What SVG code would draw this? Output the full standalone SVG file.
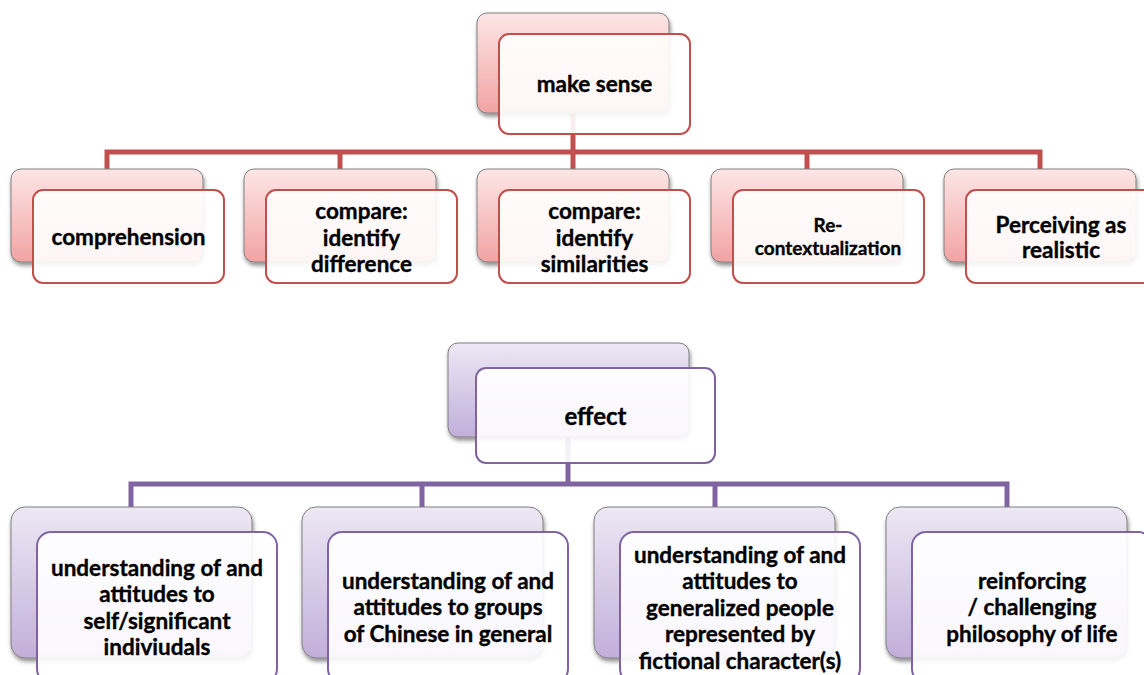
<svg xmlns="http://www.w3.org/2000/svg" width="1144" height="675" viewBox="0 0 1144 675">
<defs>
<linearGradient id="gR" x1="0" y1="0" x2="0" y2="1"><stop offset="0" stop-color="#FDE6E6"/><stop offset="1" stop-color="#F2A3A3"/></linearGradient>
<linearGradient id="gP" x1="0" y1="0" x2="0" y2="1"><stop offset="0" stop-color="#EDE8F4"/><stop offset="1" stop-color="#C2AFDA"/></linearGradient>
<filter id="sh" x="-10%" y="-10%" width="125%" height="130%"><feDropShadow dx="1" dy="3" stdDeviation="2" flood-color="#000" flood-opacity="0.45"/></filter>
</defs>
<style>
.br{fill:url(#gR);stroke:#808080;stroke-width:1;filter:url(#sh)}
.bp{fill:url(#gP);stroke:#808080;stroke-width:1;filter:url(#sh)}
.fr{fill:#fff;fill-opacity:0.9;stroke:#C0504D;stroke-width:2}
.fp{fill:#fff;fill-opacity:0.9;stroke:#8064A2;stroke-width:2}
.cr{fill:none;stroke:#C0504D;stroke-width:5}
.cp{fill:none;stroke:#8064A2;stroke-width:5}
text{font-family:Lato,"Liberation Sans",sans-serif;font-weight:bold;font-size:22.5px;fill:#000;stroke:#000;stroke-width:0.35;text-anchor:middle;dominant-baseline:central}
.sm{font-size:19px}
.lg{font-size:24px}
</style>
<rect width="1144" height="675" fill="#fff"/>
<g id="connectors">
<path class="cr" d="M573,113V152M107,169V152H1040V169M340,152V169M573,152V169M807,152V169"/>
<path class="cp" d="M568,437V484M131,507V484H1007V507M422,484V507M715,484V507"/>
</g>
<g id="make-sense">
<rect class="br" x="477" y="13" width="192" height="100" rx="10"/>
<rect class="fr" x="499" y="34" width="191" height="100" rx="10"/>
<text x="594.5" y="83">make sense</text>
</g>
<g id="comprehension">
<rect class="br" x="11" y="169" width="192" height="93" rx="10"/>
<rect class="fr" x="33" y="190" width="191" height="93" rx="10"/>
<text x="128.5" y="236">comprehension</text>
</g>
<g id="compare-difference">
<rect class="br" x="244" y="169" width="192" height="93" rx="10"/>
<rect class="fr" x="266" y="190" width="191" height="93" rx="10"/>
<text x="361.5" y="210">compare:</text>
<text x="361.5" y="237">identify</text>
<text x="361.5" y="263">difference</text>
</g>
<g id="compare-similarities">
<rect class="br" x="477" y="169" width="192" height="93" rx="10"/>
<rect class="fr" x="499" y="190" width="191" height="93" rx="10"/>
<text x="594.5" y="210">compare:</text>
<text x="594.5" y="237">identify</text>
<text x="594.5" y="263">similarities</text>
</g>
<g id="recontextualization">
<rect class="br" x="711" y="169" width="192" height="93" rx="10"/>
<rect class="fr" x="733" y="190" width="191" height="93" rx="10"/>
<text class="sm" x="828" y="224">Re-</text>
<text class="sm" x="828" y="247">contextualization</text>
</g>
<g id="perceiving">
<rect class="br" x="944" y="169" width="192" height="93" rx="10"/>
<rect class="fr" x="966" y="190" width="191" height="93" rx="10"/>
<text x="1061" y="224">Perceiving as</text>
<text x="1061" y="249">realistic</text>
</g>
<g id="effect">
<rect class="bp" x="448" y="343" width="241" height="94" rx="10"/>
<rect class="fp" x="476" y="368" width="239" height="95" rx="10"/>
<text class="lg" x="595.5" y="415">effect</text>
</g>
<g id="self">
<rect class="bp" x="11" y="507" width="241" height="151" rx="14"/>
<rect class="fp" x="37" y="532" width="240" height="151" rx="14"/>
<text x="157" y="567">understanding of and</text>
<text x="157" y="593">attitudes to</text>
<text x="157" y="620">self/significant</text>
<text x="157" y="646">indiviudals</text>
</g>
<g id="groups">
<rect class="bp" x="302" y="507" width="241" height="151" rx="14"/>
<rect class="fp" x="328" y="532" width="240" height="151" rx="14"/>
<text x="448" y="580">understanding of and</text>
<text x="448" y="606">attitudes to groups</text>
<text x="448" y="633">of Chinese in general</text>
</g>
<g id="generalized">
<rect class="bp" x="594" y="507" width="241" height="151" rx="14"/>
<rect class="fp" x="620" y="532" width="240" height="151" rx="14"/>
<text x="740" y="554">understanding of and</text>
<text x="740" y="580">attitudes to</text>
<text x="740" y="607">generalized people</text>
<text x="740" y="633">represented by</text>
<text x="740" y="660">fictional character(s)</text>
</g>
<g id="philosophy">
<rect class="bp" x="886" y="507" width="241" height="151" rx="14"/>
<rect class="fp" x="912" y="532" width="240" height="151" rx="14"/>
<text x="1032" y="580">reinforcing</text>
<text x="1032" y="606">/ challenging</text>
<text x="1032" y="633">philosophy of life</text>
</g>
</svg>
